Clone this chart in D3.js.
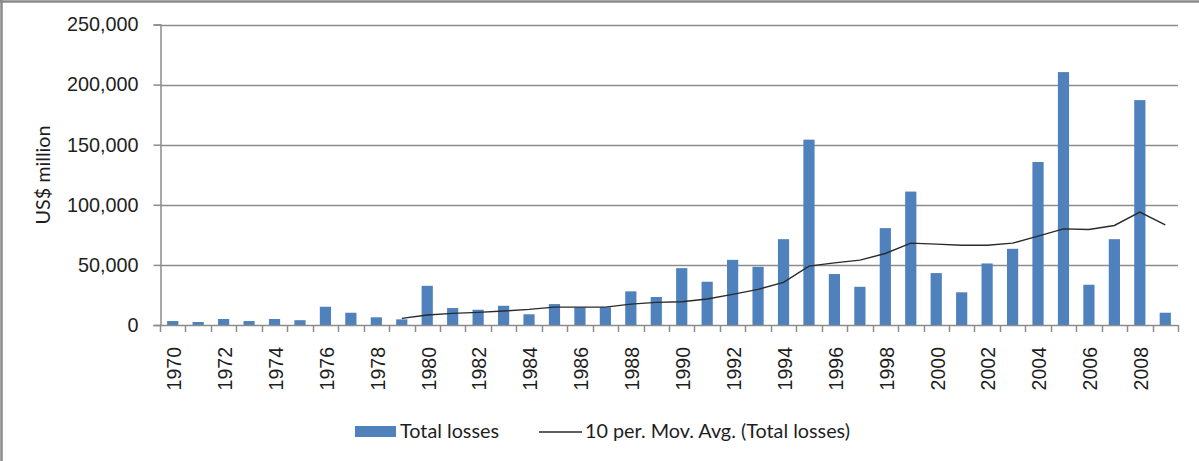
<!DOCTYPE html>
<html>
<head>
<meta charset="utf-8">
<script src="https://cdn.jsdelivr.net/npm/d3@7"></script>
<style>
  body { margin: 0; background: #fff; }
  svg { display: block; font-family: Lato, "Open Sans", sans-serif; }
</style>
</head>
<body>
<svg id="chart"></svg>
<script>
// yearly losses, US$ million
const years = [1970, 1971, 1972, 1973, 1974, 1975, 1976, 1977, 1978, 1979,
  1980, 1981, 1982, 1983, 1984, 1985, 1986, 1987, 1988, 1989,
  1990, 1991, 1992, 1993, 1994, 1995, 1996, 1997, 1998, 1999,
  2000, 2001, 2002, 2003, 2004, 2005, 2006, 2007, 2008, 2009];

const totalLosses = [3300, 2500, 5000, 3300, 5000, 4000, 15200, 10200, 6400, 4700,
  32600, 14100, 12700, 16000, 8900, 17400, 14700, 14700, 28000, 23300,
  47300, 36000, 54200, 48400, 71400, 154200, 42400, 31800, 80600, 111000,
  43200, 27200, 51200, 63400, 135600, 210400, 33500, 71400, 187100, 10200];

// 10 period moving average, starts with the 10th year
const movAvg = [null, null, null, null, null, null, null, null, null, 5500,
  8300, 9700, 10500, 11600, 13000, 14900, 14900, 14900, 17400, 18800,
  19400, 21600, 25500, 29600, 35500, 49000, 51700, 54000, 59500, 68100,
  67300, 66400, 66400, 68100, 73900, 80000, 79500, 82800, 93900, 83300];

const yTicks = [0, 50000, 100000, 150000, 200000, 250000];
const xTickLabels = [1970, 1972, 1974, 1976, 1978, 1980, 1982, 1984, 1986, 1988,
  1990, 1992, 1994, 1996, 1998, 2000, 2002, 2004, 2006, 2008];

const W = 1199, H = 461;
const plotL = 160, plotR = 1178, plotT = 24.5, plotB = 325;
const gridColor = "#8c8c8c";
const barColor = "#4f81bd";
const textColor = "#1e1e1e";
const fontSize = 19.8;
const yearFontSize = 19.5;

const svg = d3.select("#chart").attr("width", W).attr("height", H);

const x = d3.scaleBand().domain(years).range([plotL, plotR]).paddingInner(0.56).paddingOuter(0.28);
const y = d3.scaleLinear().domain([0, 250000]).range([plotB, plotT]);

// outer frame (top and left only)
svg.append("line").attr("x1", 0).attr("x2", W).attr("y1", 1.5).attr("y2", 1.5)
  .attr("stroke", "#8a8a8a").attr("stroke-width", 2.5);
svg.append("line").attr("x1", 1.5).attr("x2", 1.5).attr("y1", 0).attr("y2", H)
  .attr("stroke", "#8a8a8a").attr("stroke-width", 2.5);

// gridlines
svg.append("g").selectAll("line").data(yTicks.slice(1)).enter().append("line")
  .attr("x1", plotL).attr("x2", plotR)
  .attr("y1", d => Math.round(y(d)) + 0.5).attr("y2", d => Math.round(y(d)) + 0.5)
  .attr("stroke", gridColor).attr("stroke-width", 1.5);

// y axis
const yAxis = svg.append("g").attr("transform", `translate(${plotL + 0.5},0)`)
  .call(d3.axisLeft(y).tickValues(yTicks).tickFormat(d3.format(",")).tickSize(7).tickPadding(15));
yAxis.select(".domain").attr("stroke", gridColor).attr("stroke-width", 1.5);
yAxis.selectAll(".tick line").attr("stroke", gridColor).attr("stroke-width", 1.5);
yAxis.selectAll("text").attr("font-size", fontSize).attr("fill", textColor).attr("font-family", null);

// bars
svg.append("g").selectAll("rect").data(years).enter().append("rect")
  .attr("x", d => x(d))
  .attr("width", x.bandwidth())
  .attr("y", (d, i) => y(totalLosses[i]))
  .attr("height", (d, i) => plotB - y(totalLosses[i]))
  .attr("fill", barColor);

// x axis line and category boundary ticks
const off = (x.step() - x.bandwidth()) / 2;
const bounds = years.map(d => x(d) - off).concat([plotR]);
svg.append("line").attr("x1", plotL).attr("x2", plotR).attr("y1", plotB + 0.5).attr("y2", plotB + 0.5)
  .attr("stroke", gridColor).attr("stroke-width", 1.5);
svg.append("g").selectAll("line").data(bounds).enter().append("line")
  .attr("x1", d => Math.round(d) + 0.5).attr("x2", d => Math.round(d) + 0.5)
  .attr("y1", plotB).attr("y2", plotB + 7)
  .attr("stroke", gridColor).attr("stroke-width", 1.5);

// rotated year labels
const xAxis = svg.append("g").attr("transform", `translate(0,${plotB})`)
  .call(d3.axisBottom(x).tickValues(xTickLabels).tickSize(0));
xAxis.select(".domain").remove();
xAxis.selectAll("text")
  .attr("transform", "rotate(-90)")
  .attr("x", -22).attr("y", 1.5).attr("dy", "0.35em")
  .style("text-anchor", "end")
  .attr("font-size", yearFontSize).attr("fill", textColor).attr("font-family", null);

// moving average
const line = d3.line()
  .defined(d => d != null)
  .x((d, i) => x(years[i]) + x.bandwidth() / 2)
  .y(d => y(d));
svg.append("path").datum(movAvg)
  .attr("d", line)
  .attr("fill", "none").attr("stroke", "#2a2a2a").attr("stroke-width", 1.4);

// y axis title
svg.append("text")
  .attr("transform", "translate(50,175) rotate(-90)")
  .attr("text-anchor", "middle")
  .attr("font-size", fontSize).attr("fill", textColor)
  .text("US$ million");

// legend
const lg = svg.append("g");
lg.append("rect").attr("x", 355).attr("y", 426).attr("width", 41).attr("height", 11).attr("fill", barColor);
lg.append("text").attr("x", 400).attr("y", 438).attr("font-size", fontSize).attr("fill", textColor).text("Total losses");
lg.append("line").attr("x1", 539).attr("x2", 582).attr("y1", 432).attr("y2", 432)
  .attr("stroke", "#2a2a2a").attr("stroke-width", 1.4);
lg.append("text").attr("x", 585).attr("y", 438).attr("font-size", fontSize).attr("fill", textColor)
  .text("10 per. Mov. Avg. (Total losses)");
</script>
</body>
</html>
